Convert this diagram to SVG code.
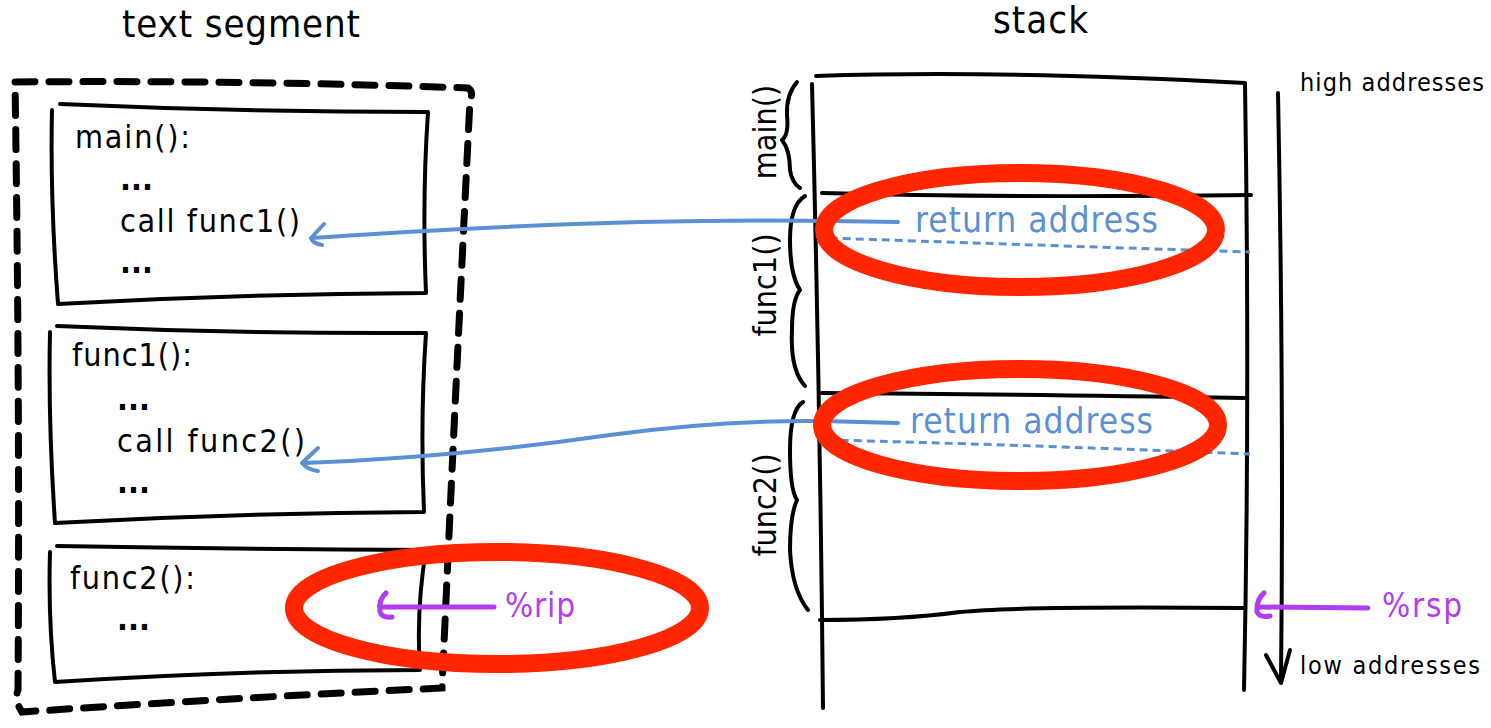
<svg xmlns="http://www.w3.org/2000/svg" width="1491" height="728" viewBox="0 0 1491 728">
  <defs>
    <style>
      .ink { fill: none; stroke: #000; stroke-width: 4; stroke-linecap: round; stroke-linejoin: round; }
      .dash { fill: none; stroke: #000; stroke-width: 7; stroke-linecap: round; stroke-dasharray: 20 14; }
      .lbl { font-family: "Liberation Sans Narrow", "DejaVu Sans Condensed", "Liberation Sans", sans-serif; fill: #000; }
      .code { font-size: 32px; }
      .dots { font-size: 32px; font-weight: bold; }
      .title { font-size: 38px; }
      .small { font-size: 25px; }
      .blue { fill: none; stroke: #5b90d4; stroke-width: 4; stroke-linecap: round; stroke-linejoin: round; }
      .bluedash { fill: none; stroke: #5b90d4; stroke-width: 3; stroke-dasharray: 8 5; }
      .bluetxt { fill: #5b90d4; font-size: 35px; }
      .purple { fill: none; stroke: #b23cf0; stroke-width: 5; stroke-linecap: round; stroke-linejoin: round; }
      .purpletxt { fill: #b23cf0; font-size: 33px; }
      .ring { fill: none; stroke: #ff2600; stroke-width: 18; }
    </style>
  </defs>

  <!-- headings -->
  <text class="lbl title" x="122" y="37" textLength="238" lengthAdjust="spacing">text segment</text>
  <text class="lbl title" x="993" y="33" textLength="95" lengthAdjust="spacing">stack</text>

  <!-- text segment outline -->
  <g id="text-segment">
    <path class="dash" d="M15 82 Q240 80 468 88 Q474 92 470 100 Q455 400 442 688 Q230 698 22 712 Q14 700 18 690 Q20 400 15 82 Z"/>
  </g>

  <!-- function blocks in the text segment -->
  <g id="block-main">
    <path class="ink" d="M60 104 Q240 112 428 112 Q422 200 426 293 Q240 294 58 304 Q50 200 52 110"/>
    <text class="lbl code" x="75" y="148" textLength="115" lengthAdjust="spacing">main():</text>
    <text class="lbl dots" x="120" y="190">...</text>
    <text class="lbl code" x="120" y="232" textLength="180" lengthAdjust="spacing">call func1()</text>
    <text class="lbl dots" x="120" y="273">...</text>
  </g>
  <g id="block-func1">
    <path class="ink" d="M57 326 Q240 334 426 333 Q420 420 424 512 Q240 513 55 523 Q48 420 50 332"/>
    <text class="lbl code" x="72" y="366" textLength="120" lengthAdjust="spacing">func1():</text>
    <text class="lbl dots" x="117" y="410">...</text>
    <text class="lbl code" x="117" y="452" textLength="188" lengthAdjust="spacing">call func2()</text>
    <text class="lbl dots" x="117" y="493">...</text>
  </g>
  <g id="block-func2">
    <path class="ink" d="M57 546 Q240 549 426 550 Q416 610 420 670 Q240 670 55 682 Q48 620 50 552"/>
    <text class="lbl code" x="70" y="589" textLength="125" lengthAdjust="spacing">func2():</text>
    <text class="lbl dots" x="117" y="630">...</text>
  </g>

  <!-- stack frames -->
  <g id="stack">
    <path class="ink" d="M816 76 Q1000 70 1245 83 Q1250 400 1244 690"/>
    <path class="ink" d="M812 84 Q820 400 823 708"/>
    <path class="ink" d="M822 193 Q1000 198 1251 195"/>
    <path class="ink" d="M822 393 Q1000 394 1244 398"/>
    <path class="ink" d="M820 620 Q900 620 960 612 Q1020 606 1244 608"/>
  </g>

  <g id="frame-main">
    <path class="ink" d="M797 82 Q786 95 787 115 Q789 135 782 140 Q790 150 790 170 Q792 183 800 188"/>
    <text class="lbl code" transform="translate(776 132) rotate(-90)" text-anchor="middle">main()</text>
  </g>
  <g id="frame-func1">
    <path class="ink" d="M805 196 Q790 205 790 240 Q790 275 800 290 Q792 300 792 330 Q790 370 805 386"/>
    <text class="lbl code" transform="translate(776 285) rotate(-90)" text-anchor="middle">func1()</text>
  </g>
  <g id="frame-func2">
    <path class="ink" d="M803 402 Q790 410 790 450 Q790 490 797 500 Q790 515 790 550 Q792 590 808 610"/>
    <text class="lbl code" transform="translate(776 505) rotate(-90)" text-anchor="middle">func2()</text>
  </g>

  <!-- growth direction -->
  <g id="address-axis">
    <path class="ink" d="M1278 93 Q1284 400 1281 682"/>
    <path class="ink" d="M1266 655 L1281 683 L1290 650"/>
    <text class="lbl small" x="1300" y="91" textLength="184" lengthAdjust="spacing">high addresses</text>
    <text class="lbl small" x="1300" y="674" textLength="180" lengthAdjust="spacing">low addresses</text>
  </g>

  <!-- return addresses stored in the frames -->
  <g id="ret-1">
    <text class="lbl bluetxt" x="915" y="232" textLength="243" lengthAdjust="spacing">return address</text>
    <path class="bluedash" d="M830 238 Q1000 244 1250 252"/>
  </g>
  <g id="ret-2">
    <text class="lbl bluetxt" x="910" y="433" textLength="243" lengthAdjust="spacing">return address</text>
    <path class="bluedash" d="M828 440 Q1000 444 1250 454"/>
  </g>

  <!-- registers -->
  <g id="reg-rip">
    <text class="lbl purpletxt" x="505" y="617" textLength="70" lengthAdjust="spacing">%rip</text>
  </g>
  <g id="reg-rsp">
    <text class="lbl purpletxt" x="1382" y="617" textLength="80" lengthAdjust="spacing">%rsp</text>
  </g>

  <!-- connectors -->
  <g id="connectors">
    <path class="blue" d="M898 222 L830 221 Q600 218 312 238"/>
    <path class="blue" d="M324 224 L311 238 Q312 243 322 245"/>
    <path class="blue" d="M898 423 L822 421 Q720 420 610 435 Q450 458 304 463"/>
    <path class="blue" d="M318 448 L302 463 Q308 470 318 471"/>
    <path class="purple" d="M494 607 L380 607"/>
    <path class="purple" d="M386 593 Q378 600 380 612 Q382 618 392 617"/>
    <path class="purple" d="M1368 608 L1258 607"/>
    <path class="purple" d="M1264 593 Q1256 600 1257 612 Q1260 618 1270 616"/>
  </g>

  <!-- highlight rings -->
  <g id="highlights">
    <ellipse class="ring" cx="1020" cy="230" rx="196" ry="57"/>
    <ellipse class="ring" cx="1020" cy="425" rx="198" ry="56"/>
    <ellipse class="ring" cx="497" cy="608" rx="203" ry="56"/>
  </g>
</svg>
